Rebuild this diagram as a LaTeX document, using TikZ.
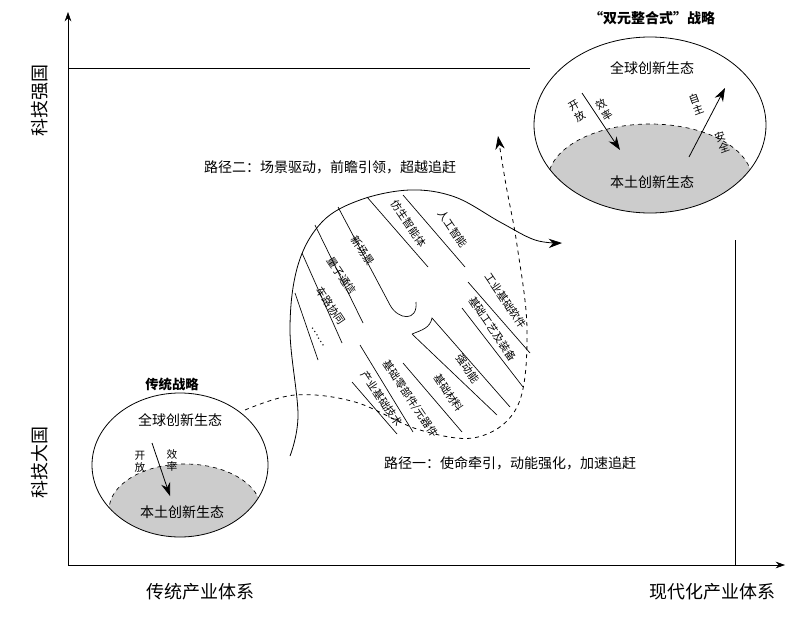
\documentclass[tikz,border=0pt]{standalone}
\usepackage{fontspec}
\setmainfont{Noto Sans CJK SC}
\usetikzlibrary{arrows.meta}
\begin{document}
\begin{tikzpicture}[x=0.75pt,y=-0.75pt,
  lbl/.style={font=\fontsize{10.5}{12}\selectfont},
  sml/.style={font=\fontsize{8}{9}\selectfont,inner sep=0pt},
  bl/.style={font=\fontsize{8}{8}\selectfont,rotate=-56,inner sep=0pt,xshift=3pt,yshift=2pt},
  ln/.style={line width=0.5pt},
  big/.style={-{Stealth[length=10pt,width=7pt]},line width=0.6pt},
  gray1/.style={fill=black!20,draw,dashed,line width=0.5pt}]
\useasboundingbox (0,0) rectangle (800,621);
% axes
\coordinate (o) at (68,565);
\coordinate (yt) at (68,12);
\coordinate (xt) at (785,565);
\draw[ln,-{Stealth[length=7pt,width=5pt]}] (o) -- (yt);
\draw[ln,-{Stealth[length=7pt,width=5pt]}] (o) -- (xt);
\coordinate (h1) at (68,68); \coordinate (h2) at (530,68);
\draw[ln] (h1) -- (h2);
\coordinate (v1) at (735,240); \coordinate (v2) at (735,565);
\draw[ln] (v1) -- (v2);
\node[rotate=90,font=\fontsize{13.5}{14}\selectfont] (ya) at (40,100) {科技强国};
\node[rotate=90,font=\fontsize{13.5}{14}\selectfont] (yb) at (40,462) {科技大国};
\node[font=\fontsize{13.5}{14}\selectfont] (xa) at (200,592) {传统产业体系};
\node[font=\fontsize{13.5}{14}\selectfont] (xb) at (712,592) {现代化产业体系};
% left ellipse
\begin{scope}
\clip (180,465) ellipse [x radius=88,y radius=72];
\draw[gray1] (185,510) ellipse [x radius=76,y radius=46];
\end{scope}
\draw[line width=0.6pt] (180,465) ellipse [x radius=88,y radius=72];
\node[font=\bfseries\fontsize{10}{12}\selectfont] (lt) at (172,384) {传统战略};
\node[lbl] (lg) at (180,420) {全球创新生态};
\node[lbl] (lb) at (182,512) {本土创新生态};
\coordinate (la1) at (152,443); \coordinate (la2) at (170,496);
\draw[big] (la1) -- (la2);
\node[sml,align=center] (lk) at (140,462) {开\\放};
\node[sml,align=center] (lx) at (172,460) {效\\率};
% right ellipse
\begin{scope}
\clip (650,125) ellipse [x radius=116,y radius=88];
\draw[gray1] (650,180) ellipse [x radius=102,y radius=56];
\end{scope}
\draw[line width=0.6pt] (650,125) ellipse [x radius=116,y radius=88];
\node[font=\bfseries\fontsize{10.5}{12}\selectfont] (rt) at (652,18) {“双元整合式”战略};
\node[lbl] (rg) at (652,68) {全球创新生态};
\node[lbl] (rb) at (652,182) {本土创新生态};
\coordinate (ra1) at (582,93); \coordinate (ra2) at (620,150);
\draw[big] (ra1) -- (ra2);
\coordinate (rb1) at (689,157); \coordinate (rb2) at (725,88);
\draw[big] (rb1) -- (rb2);
\node[sml,align=center,rotate=30] (rk) at (577,111) {开\\放};
\node[sml,align=center,rotate=30] (rx) at (604,110) {效\\率};
\node[sml,align=center,rotate=20] (rz) at (696,104) {自\\主};
\node[sml,align=center,rotate=20] (ra) at (722,142) {安\\全};
% path labels
\node[lbl] (p2) at (330,167) {路径二：场景驱动，前瞻引领，超越追赶};
\node[lbl] (p1) at (510,463) {路径一：使命牵引，动能强化，加速追赶};
% blob solid outline with arrow
\coordinate (s0) at (290,456);
\coordinate (s9) at (562,243);
\draw[line width=0.6pt,-{Stealth[length=10pt,width=7pt]}] plot[smooth,tension=0.6] coordinates {(s0) (298,415) (290,330) (298,265) (322,222) (360,200) (410,190) (455,197) (500,222) (535,240) (s9)};
% dashed outline with arrow
\coordinate (d0) at (245,410);
\coordinate (d9) at (498,136);
\draw[dashed,line width=0.6pt,-{Stealth[length=10pt,width=7pt]}] plot[smooth,tension=0.6] coordinates {(d0) (295,395) (355,402) (420,430) (478,437) (518,405) (527,330) (517,245) (506,185) (d9)};
% inner lines
\draw[ln] (367,197) -- (428,267);
\draw[ln] (403,195) -- (465,267);
\draw[ln] (338,207) -- (390,305) .. controls (398,320) and (418,322) .. (416,302);
\draw[ln] (315,225) -- (363,323);
\draw[ln] (302,253) -- (342,343);
\draw[ln] (295,293) -- (318,360);
\draw[ln] (468,282) -- (530,353);
\draw[ln] (462,308) -- (523,387);
\draw[ln] (412,334) .. controls (422,330) and (430,328) .. (432,318) -- (510,407);
\draw[ln] (412,334) -- (497,415);
\draw[ln] (403,363) -- (462,432);
\draw[ln] (360,345) -- (413,432);
\draw[ln] (352,382) -- (397,434);
% blob labels
\node[bl] (t1) at (448,227) {人工智能};
\node[bl] (t2) at (404,222) {仿生智能体};
\node[bl] (t3) at (358,249) {新场景};
\node[bl] (t4) at (337,274) {量子通信};
\node[bl] (t5) at (326,304) {车路协同};
\node[bl] (t6) at (314,335) {……};
\node[bl] (t7) at (501,299) {工业基础软件};
\node[bl] (t8) at (488,327) {基础工艺及装备};
\node[bl] (t9) at (463,367) {强动能};
\node[bl] (t10) at (444,391) {基础材料};
\node[bl] (t11) at (406,397) {基础零部件/元器件};
\node[bl] (t12) at (377,397) {产业基础技术};
\end{tikzpicture}
\end{document}
